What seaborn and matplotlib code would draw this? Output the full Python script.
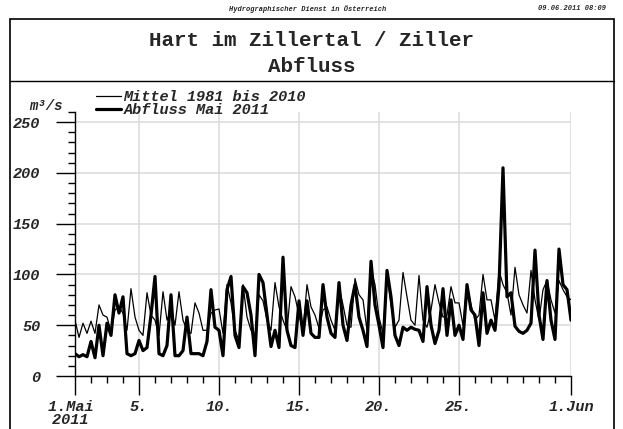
import numpy as np
import pandas as pd
import seaborn as sns
import matplotlib.pyplot as plt
from matplotlib.lines import Line2D
from matplotlib.patches import Rectangle
from matplotlib.ticker import MultipleLocator

# 6-hourly values (00, 06, 12, 18 h) from 1 May to 1 June 00:00, m³/s
mittel_1981_2010 = [
    55, 38, 52, 42,  54, 42, 70, 60,  58, 44, 65, 68,  62, 45, 86, 58,
    45, 40, 82, 60,  55, 40, 83, 55,  65, 50, 83, 55,  45, 42, 72, 62,
    45, 45, 62, 65,  66, 42, 90, 72,  45, 35, 90, 58,  45, 38, 80, 74,
    55, 45, 92, 68,  55, 45, 88, 78,  60, 45, 90, 68,  60, 47, 65, 68,
    55, 45, 88, 70,  50, 48, 96, 80,  75, 45, 105, 90,  58, 42, 100, 70,
    48, 55, 102, 78,  55, 50, 99, 55,  48, 65, 90, 72,  58, 60, 88, 72,
    72, 50, 90, 70,  55, 60, 100, 75,  75, 55, 104, 90,  82, 60, 107, 80,
    70, 62, 104, 75,  55, 85, 94, 75,  62, 94, 85, 78,
    75,
]
abfluss_mai_2011 = [
    22, 19, 21, 19,  34, 18, 50, 20,  52, 40, 80, 62,  78, 22, 20, 22,
    35, 25, 28, 60,  98, 22, 20, 30,  80, 20, 20, 25,  58, 22, 22, 22,
    20, 34, 85, 48,  45, 20, 85, 98,  40, 28, 88, 82,  60, 20, 100, 92,
    60, 29, 45, 28,  117, 45, 30, 28,  74, 40, 74, 42,  38, 38, 90, 58,
    42, 38, 92, 50,  35, 70, 90, 58,  45, 29, 113, 70,  50, 28, 104, 78,
    40, 30, 48, 45,  48, 46, 45, 34,  88, 50, 32, 45,  86, 40, 75, 40,
    50, 36, 90, 65,  60, 30, 82, 42,  55, 45, 88, 205,  78, 82, 49, 44,
    42, 45, 52, 124,  60, 36, 94, 55,  36, 125, 90, 85,
    55,
]

x_ticks = [0, 4, 9, 14, 19, 24, 31]
x_labels = ["1.Mai \n2011 ", "5.", "10.", "15.", "20.", "25.", "1.Jun"]
y_ticks = [0, 50, 100, 150, 200, 250]
y_labels = ["0", "50", "100", "150", "200", "250"]

MONO = "Liberation Mono"
W, H = 623, 429
label_font = dict(fontsize=11, fontweight="bold", fontstyle="italic")

sns.set_style("white")
plt.rcParams["font.family"] = [MONO, "DejaVu Sans"]

tage = np.arange(len(abfluss_mai_2011)) / 4
df = pd.DataFrame({"tag": tage, "mittel": mittel_1981_2010, "abfluss": abfluss_mai_2011})

fig = plt.figure(figsize=(W / 100, H / 100), dpi=100)
ax = fig.add_axes([75 / W, 1 - 376 / H, 496 / W, 264 / H])

sns.lineplot(data=df, x="tag", y="mittel", color="black", lw=0.9, ax=ax,
             label="Mittel 1981 bis 2010")
sns.lineplot(data=df, x="tag", y="abfluss", color="black", lw=2.3, ax=ax,
             label="Abfluss Mai 2011")

ax.set_xlim(0, 31)
ax.set_ylim(0, 260)
for s in ["top", "right"]:
    ax.spines[s].set_visible(False)
for s in ["left", "bottom"]:
    ax.spines[s].set_color("black")
    ax.spines[s].set_linewidth(1.0)

ax.set_xticks(x_ticks)
ax.set_xticklabels(x_labels, linespacing=0.9, **label_font)
ax.set_yticks(y_ticks)
ax.set_yticklabels(y_labels, **label_font)
ax.xaxis.set_minor_locator(MultipleLocator(1))
ax.yaxis.set_minor_locator(MultipleLocator(10))
ax.tick_params(which="major", direction="out", length=14, width=1, color="black",
               bottom=True, left=True)
ax.tick_params(which="minor", direction="out", length=5, width=1, color="black",
               bottom=True, left=True)
ax.tick_params(axis="x", which="major", pad=3)
ax.tick_params(axis="y", which="major", pad=11)

ax.grid(True, which="major", color="#dddddd", lw=1.2)
ax.set_axisbelow(True)
ax.set_xlabel("")
ax.set_ylabel("m³/s", rotation=0, fontsize=10, fontweight="bold", fontstyle="italic",
              ha="center", va="center")
ax.yaxis.set_label_coords(-0.058, 1.023)

handles, labels = ax.get_legend_handles_labels()
ax.get_legend().remove()
fig.legend(handles, labels, loc="upper left", bbox_to_anchor=(96 / W, 1 - 90 / H),
           frameon=False, prop=dict(family=MONO, weight="bold", style="italic", size=11),
           handlelength=1.65, handletextpad=0.15, labelspacing=-0.04,
           borderpad=0, borderaxespad=0)

# page frame and title box
fig.add_artist(Rectangle((10 / W, -0.02), 604 / W, 1 - 19 / H + 0.02, fill=False,
                         lw=1.2, ec="black", transform=fig.transFigure))
fig.add_artist(Line2D([10 / W, 614 / W], [1 - 81 / H, 1 - 81 / H], color="black",
                      lw=1.0, transform=fig.transFigure))

fig.text(308 / W, 1 - 9 / H, "Hydrographischer Dienst in Österreich", ha="center",
         va="center", fontsize=5, fontweight="bold", fontstyle="italic")
fig.text(606 / W, 1 - 9 / H, "09.06.2011 08:09", ha="right", va="center",
         fontsize=5, fontweight="bold", fontstyle="italic")
fig.text(0.5, 1 - 41 / H, "Hart im Zillertal / Ziller", ha="center", va="center",
         fontsize=15, fontweight="bold")
fig.text(0.5, 1 - 66 / H, "Abfluss", ha="center", va="center",
         fontsize=15, fontweight="bold")

fig.savefig("out.png", dpi=100)
